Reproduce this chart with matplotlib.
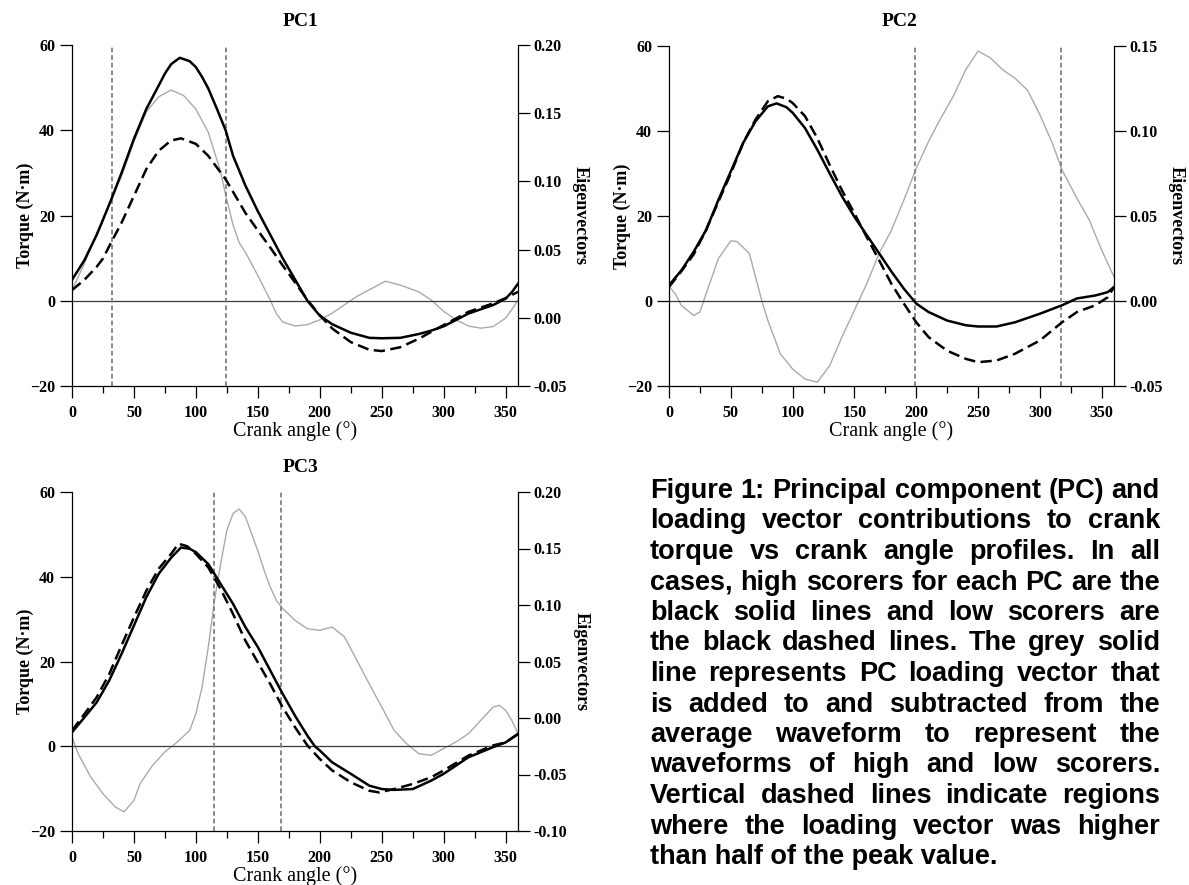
import matplotlib
matplotlib.use("Agg")
import matplotlib.pyplot as plt
from matplotlib.ticker import FixedLocator, FuncFormatter

# ---------------- data ----------------
# PC1
pc1_hi_ang = [0, 10, 20, 25, 32, 40, 50, 60, 70, 75, 80, 87, 95, 100, 105, 110, 117, 124, 130, 140, 150, 160, 170,
              180, 190, 200, 210, 225, 240, 250, 265, 280, 290, 300, 310, 320, 330, 340, 350, 355, 360]
pc1_hi_val = [4.9, 9.5, 15.5, 19, 24, 30, 38, 45, 50.5, 53.3, 55.5, 57, 56.2, 54.8, 52.5, 49.8, 45, 40, 34, 27, 21,
              15.5, 10, 5, 0, -3.5, -5.5, -7.5, -8.7, -8.8, -8.7, -7.8, -7, -6, -4.5, -3, -2, -1, 0.5, 2, 4]
pc1_lo_ang = [0, 10, 20, 25, 32, 40, 50, 60, 70, 80, 88, 100, 110, 124, 140, 150, 160, 170, 180, 190,
              200, 210, 225, 240, 250, 265, 280, 300, 320, 340, 350, 360]
pc1_lo_val = [2.5, 4.9, 8, 9.9, 13.9, 18.3, 24.6, 30.9, 35.2, 37.6, 38.1, 36.8, 34, 28.5, 20.6, 16.5, 12.5, 8.3, 4.3,
              0.2, -3.4, -6.5, -9.7, -11.5, -11.8, -10.9, -8.9, -5.7, -2.6, -0.6, 0.6, 2.1]
pc1_ev_ang = [0, 10, 20, 32, 40, 50, 60, 70, 80, 90, 100, 110, 120, 124, 130, 135, 140, 150, 160, 165, 170, 180,
              190, 200, 210, 220, 230, 240, 253, 265, 280, 290, 300, 310, 320, 330, 340, 350, 355, 360]
pc1_ev_val = [0.020, 0.040, 0.062, 0.087, 0.104, 0.129, 0.151, 0.162, 0.167, 0.163, 0.153, 0.136, 0.107, 0.090,
              0.068, 0.055, 0.048, 0.031, 0.013, 0.003, -0.003, -0.006, -0.005, -0.0015, 0.0034, 0.0096, 0.0157,
              0.0206, 0.0268, 0.024, 0.019, 0.013, 0.0047, -0.0015, -0.006, -0.0076, -0.0064, -0.0002, 0.006, 0.013]
pc1_vlines = [32.2, 124.3]

# PC2
pc2_hi_ang = [0, 10, 20, 30, 40, 50, 60, 70, 80, 87, 95, 100, 110, 120, 130, 140, 150, 160, 170, 180, 190, 200,
              210, 225, 240, 250, 265, 280, 300, 318, 330, 345, 355, 360]
pc2_hi_val = [3.7, 7.2, 11.6, 16.7, 23.8, 30.5, 37.2, 42.3, 45.8, 46.5, 45.6, 44.3, 40.7, 35.6, 30, 24.6, 19.8, 15.5,
              11.2, 6.9, 2.9, -0.6, -2.6, -4.6, -5.7, -6, -6, -5, -3, -1, 0.6, 1.3, 2.1, 3.3]
pc2_lo_ang = [0, 10, 20, 30, 40, 50, 60, 70, 80, 88, 95, 100, 110, 120, 130, 140, 150, 160, 170, 180, 190, 200,
              210, 225, 240, 250, 265, 280, 300, 318, 330, 345, 355, 360]
pc2_lo_val = [3.3, 7, 11, 16.7, 23.4, 30, 37.2, 42.7, 47, 48.2, 47.6, 46.6, 43.5, 38.3, 32, 26, 20.6, 15, 9.6, 4,
              -0.6, -5, -8.5, -11.7, -13.6, -14.4, -14, -12.4, -9.3, -5, -2.6, -1, 0.9, 3.3]
pc2_ev_ang = [0, 5, 10, 20, 25, 30, 40, 50, 55, 65, 75, 80, 90, 100, 110, 120, 130, 140, 150, 160, 170, 180, 190,
              200, 210, 220, 230, 240, 250, 260, 270, 280, 290, 300, 310, 318, 330, 340, 350, 360]
pc2_ev_val = [0.0087, 0.0043, -0.0026, -0.0085, -0.0065, 0.0043, 0.025, 0.0354, 0.035, 0.028, 0.0004, -0.0114, -0.031,
              -0.040, -0.0459, -0.0478, -0.038, -0.021, -0.0055, 0.0102, 0.028, 0.0417, 0.0594, 0.078, 0.0939, 0.1077,
              0.1205, 0.136, 0.147, 0.143, 0.136, 0.131, 0.124, 0.1096, 0.093, 0.077, 0.0604, 0.0476, 0.030, 0.0142]
pc2_vlines = [199.4, 317.1]

# PC3
pc3_hi_ang = [0, 10, 20, 30, 40, 50, 60, 70, 80, 88, 95, 100, 110, 120, 130, 140, 150, 160, 170, 180, 190, 196, 200,
              210, 225, 240, 250, 260, 275, 290, 300, 320, 340, 350, 360]
pc3_hi_val = [3.3, 6.8, 10.4, 15.5, 21.8, 28.5, 35.2, 40.7, 44.5, 46.9, 46.6, 45.8, 43, 38.3, 33.6, 28.1, 23.4, 17.9,
              12.4, 7.2, 2.5, 0, -1, -3.8, -6.5, -9.3, -10.1, -10.3, -10.1, -8.1, -6.5, -2.6, -0.2, 0.9, 2.9]
pc3_lo_ang = [0, 10, 20, 30, 40, 50, 60, 70, 80, 86, 93, 100, 110, 120, 130, 140, 150, 160, 170, 180, 190, 200, 210,
              225, 240, 248, 260, 275, 290, 300, 320, 340, 350, 360]
pc3_lo_val = [3.7, 7.6, 11.6, 17, 23.8, 30.4, 36.7, 41.9, 45.4, 47.8, 47.2, 45.4, 42.2, 37.1, 31.2, 24.9, 19.8, 14.7,
              9.2, 4.5, 0.2, -3, -5.7, -8.5, -10.5, -10.9, -10.1, -8.9, -7.3, -5.7, -2.2, 0.2, 0.9, 2.9]
pc3_ev_ang = [0, 5, 15, 25, 35, 42, 50, 55, 65, 75, 85, 95, 100, 105, 110, 115, 120, 125, 130, 135, 140, 145, 150,
              155, 160, 165, 170, 180, 190, 200, 210, 220, 230, 240, 250, 260, 270, 280, 290, 300, 310, 320, 330, 340,
              345, 350, 355, 360]
pc3_ev_val = [-0.0168, -0.0316, -0.052, -0.067, -0.0788, -0.083, -0.073, -0.058, -0.042, -0.030, -0.0212, -0.011,
              0.0038, 0.0274, 0.0628, 0.104, 0.1366, 0.166, 0.181, 0.185, 0.178, 0.163, 0.148, 0.131, 0.116, 0.104,
              0.097, 0.0864, 0.079, 0.0776, 0.0805, 0.0717, 0.051, 0.030, 0.0097, -0.0109, -0.0227, -0.0316, -0.033,
              -0.027, -0.0212, -0.0139, -0.002, 0.0097, 0.0112, 0.0068, -0.002, -0.0139]
pc3_vlines = [114.4, 168.6]

titles = ["PC1", "PC2", "PC3"]
ev_ticks = [[-0.05, 0.00, 0.05, 0.10, 0.15, 0.20],
            [-0.05, 0.00, 0.05, 0.10, 0.15],
            [-0.10, -0.05, 0.00, 0.05, 0.10, 0.15, 0.20]]
torque_ticks = [-20, 0, 20, 40, 60]
angle_ticks = [0, 50, 100, 150, 200, 250, 300, 350]
angle_minor = [25, 75, 125, 175, 225, 275, 325]

caption_lines = [
    "Figure 1: Principal component (PC) and",
    "loading vector contributions to crank",
    "torque vs crank angle profiles. In all",
    "cases, high scorers for each PC are the",
    "black solid lines and low scorers are",
    "the black dashed lines. The grey solid",
    "line represents PC loading vector that",
    "is added to and subtracted from the",
    "average waveform to represent the",
    "waveforms of high and low scorers.",
    "Vertical dashed lines indicate regions",
    "where the loading vector was higher",
    "than half of the peak value.",
]

# ---------------- figure ----------------
W, H = 1189, 885
fig = plt.figure(figsize=(W / 100, H / 100), dpi=100)
SERIF = ["Liberation Serif", "DejaVu Serif"]
SANS = ["Liberation Sans", "DejaVu Sans"]

def px_rect(l, r, t, b):
    return [l / W, (H - b) / H, (r - l) / W, (b - t) / H]

rects = [px_rect(72, 518, 45, 386), px_rect(669, 1114, 46, 386), px_rect(72, 518, 492, 831)]
panels = [
    (pc1_hi_ang, pc1_hi_val, pc1_lo_ang, pc1_lo_val, pc1_ev_ang, pc1_ev_val, pc1_vlines),
    (pc2_hi_ang, pc2_hi_val, pc2_lo_ang, pc2_lo_val, pc2_ev_ang, pc2_ev_val, pc2_vlines),
    (pc3_hi_ang, pc3_hi_val, pc3_lo_ang, pc3_lo_val, pc3_ev_ang, pc3_ev_val, pc3_vlines),
]
title_x = [0.513, 0.519, 0.513]

tick_fs = 11.5
for i, (rect, pdata) in enumerate(zip(rects, panels)):
    hi_a, hi_v, lo_a, lo_v, ev_a, ev_v, vl = pdata
    ax = fig.add_axes(rect)
    tw = ax.twinx()
    ax.set_zorder(tw.get_zorder() + 1)
    ax.patch.set_visible(False)

    # loading vector (grey)
    tw.plot(ev_a, ev_v, color="#aaaaaa", lw=1.0)
    tw.set_ylim(ev_ticks[i][0], ev_ticks[i][-1])
    tw.yaxis.set_major_locator(FixedLocator(ev_ticks[i]))
    tw.yaxis.set_major_formatter(FuncFormatter(lambda v, p: f"{v:.2f}"))

    ax.axhline(0, color="#3a3a3a", lw=0.9, zorder=1)
    for v in vl:
        ax.axvline(v, color="#808080", lw=1.3, dashes=(2.6, 1.6), zorder=1)
    ax.plot(hi_a, hi_v, color="black", lw=1.8, zorder=3)
    ax.plot(lo_a, lo_v, color="black", lw=1.8, dashes=(4.5, 2.2), zorder=3)

    ax.set_xlim(0, 360)
    ax.set_ylim(-20, 60)
    ax.xaxis.set_major_locator(FixedLocator(angle_ticks))
    ax.xaxis.set_minor_locator(FixedLocator(angle_minor))
    ax.yaxis.set_major_locator(FixedLocator(torque_ticks))

    for a in (ax, tw):
        a.spines["top"].set_visible(False)
        for s in a.spines.values():
            s.set_linewidth(0.9)
    tw.spines["left"].set_visible(False)
    tw.spines["bottom"].set_visible(False)
    ax.spines["right"].set_visible(False)

    ax.tick_params(axis="y", direction="out", length=8.6, width=0.9, labelsize=tick_fs, pad=3.5)
    ax.tick_params(axis="x", which="major", direction="out", length=8.6, width=0.9, labelsize=tick_fs, pad=5)
    ax.tick_params(axis="x", which="minor", direction="out", length=5, width=0.9)
    tw.tick_params(axis="y", direction="out", length=8.6, width=0.9, labelsize=tick_fs, pad=2.5)
    for lab in ax.get_xticklabels() + ax.get_yticklabels() + tw.get_yticklabels():
        lab.set_fontfamily(SERIF)
        lab.set_fontweight("bold")

    ax.set_xlabel("Crank angle (\u00b0)", fontfamily=SERIF, fontsize=14.5, labelpad=0)
    ax.set_ylabel("Torque (N\u00b7m)", fontfamily=SERIF, fontsize=13, fontweight="bold", labelpad=-3)
    tw.set_ylabel("Eigenvectors", fontfamily=SERIF, fontsize=13, fontweight="bold",
                  rotation=270, labelpad=16)
    ax.text(title_x[i], 1.0 + 24 / ((rect[3]) * H), titles[i], transform=ax.transAxes,
            ha="center", va="center", fontfamily=SERIF, fontsize=14, fontweight="bold")

# ---------------- justified caption ----------------
cap_left, cap_right = 650, 1160
first_base, line_step = 498, 30.5
cap_fs = 19.5
fig.canvas.draw()
renderer = fig.canvas.get_renderer()
for k, line in enumerate(caption_lines):
    yb = (H - (first_base + k * line_step)) / H
    words = line.split()
    if k == len(caption_lines) - 1:
        fig.text(cap_left / W, yb, line, ha="left", va="baseline", fontsize=cap_fs,
                 fontweight="bold", fontfamily=SANS)
        continue
    txts = [fig.text(0, yb, w, ha="left", va="baseline", fontsize=cap_fs, fontweight="bold",
                     fontfamily=SANS) for w in words]
    widths = [t.get_window_extent(renderer).width for t in txts]
    gap = (cap_right - cap_left - sum(widths)) / (len(words) - 1)
    x = cap_left
    for t, w in zip(txts, widths):
        t.set_x(x / W)
        x += w + gap

fig.savefig("out.png", dpi=100)
